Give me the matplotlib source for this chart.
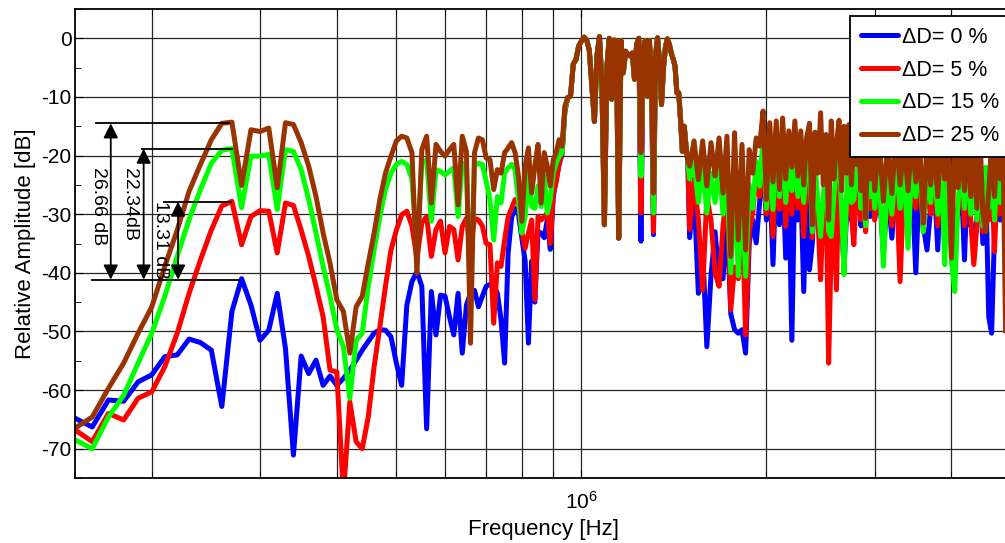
import numpy as np
import matplotlib
matplotlib.use("Agg")
import matplotlib.pyplot as plt
from matplotlib.ticker import MultipleLocator, NullFormatter, LogLocator

plt.rcParams['font.family'] = ['Liberation Sans', 'DejaVu Sans']
plt.rcParams['mathtext.fontset'] = 'custom'
plt.rcParams['mathtext.rm'] = 'Liberation Sans'
plt.rcParams['axes.unicode_minus'] = False

# frequency grids [kHz]
f_low = np.arange(150, 950, 10)
f_pass = np.arange(950, 1500, 10)
f_high = np.concatenate([np.arange(1500, 3000, 25), np.arange(3000, 4950, 50)])

labels = ["\u0394D= 0 %", "\u0394D= 5 %", "\u0394D= 15 %", "\u0394D= 25 %"]
colors = ["#0000ff", "#ff0000", "#00ff00", "#993300"]

# 150 kHz .. 940 kHz
low_0 = [-64.8, -66.3, -61.7, -61.9, -58.6, -57.4, -54.3, -54.0, -51.3, -51.9,
         -53.2, -62.8, -46.6, -41.0, -45.5, -51.5, -49.8, -43.5, -52.9, -71.1,
         -54.2, -57.2, -54.9, -59.2, -57.6, -59.2, -58.0, -56.6, -54.9, -53.2,
         -51.7, -50.3, -49.7, -49.8, -50.9, -55.4, -59.2, -45.5, -41.5, -39.8,
         -42.3, -66.6, -43.2, -50.6, -43.8, -44.0, -47.5, -50.6, -43.5, -53.7,
         -45.5, -43.5, -43.0, -45.8, -44.0, -42.3, -42.0, -42.1, -43.5, -48.0,
         -55.4, -36.6, -30.5, -29.0, -30.0, -34.0, -38.0, -52.0, -38.0, -45.0,
         -33.0, -33.2, -34.0, -31.0, -36.0, -27.0, -24.0, -21.5, -19.8, -12.5]
low_5 = [-66.8, -68.8, -64.0, -65.1, -61.4, -60.3, -56.0, -50.3, -43.5, -37.8,
         -32.7, -28.6, -27.8, -35.2, -30.4, -29.4, -29.5, -36.6, -28.1, -28.5,
         -32.7, -37.2, -42.3, -47.5, -56.6, -56.9, -78.0, -62.0, -68.8, -70.0,
         -64.6, -56.0, -49.2, -42.3, -36.1, -32.7, -30.1, -29.5, -32.0, -37.5,
         -31.5, -30.4, -37.2, -32.6, -31.2, -36.6, -32.1, -32.6, -37.8, -32.1,
         -30.7, -36.0, -30.7, -31.0, -32.0, -35.0, -35.2, -48.6, -38.3, -38.9,
         -34.4, -30.5, -29.0, -27.5, -28.0, -33.0, -35.8, -33.2, -31.0, -44.6,
         -30.4, -31.0, -30.4, -29.8, -35.0, -26.4, -24.5, -21.3, -19.5, -12.3]
low_15 = [-68.5, -70.0, -64.6, -60.9, -55.4, -50.3, -44.0, -37.2, -30.9, -25.8,
          -21.3, -19.1, -18.8, -28.9, -20.1, -20.1, -19.8, -29.2, -19.0, -19.3,
          -22.4, -27.5, -33.2, -38.9, -44.0, -49.7, -52.6, -61.4, -51.5, -50.3,
          -42.3, -36.1, -30.4, -25.8, -23.0, -21.5, -21.0, -21.5, -24.0, -36.0,
          -21.3, -20.7, -31.2, -22.4, -22.7, -23.3, -22.7, -22.1, -30.4, -21.3,
          -21.8, -45.0, -21.8, -21.3, -21.5, -24.4, -27.5, -34.4, -27.0, -28.1,
          -23.0, -22.1, -21.5, -22.4, -27.5, -33.2, -30.4, -22.4, -28.7, -29.0,
          -25.2, -28.7, -23.5, -29.8, -27.5, -23.0, -21.3, -20.1, -19.5, -12.1]
low_25 = [-66.5, -64.6, -59.7, -55.4, -50.3, -45.8, -38.9, -32.7, -26.1, -21.5,
          -17.3, -14.5, -14.3, -25.1, -15.6, -15.9, -15.3, -25.5, -14.4, -14.7,
          -17.8, -21.8, -27.0, -33.2, -38.4, -44.6, -46.6, -53.7, -45.8, -44.0,
          -38.4, -33.2, -27.5, -23.0, -20.1, -17.5, -16.7, -17.0, -19.5, -40.1,
          -19.0, -16.7, -28.1, -18.1, -19.3, -20.1, -19.0, -18.1, -28.4, -16.7,
          -19.3, -52.0, -19.5, -17.0, -17.3, -20.4, -20.7, -25.8, -22.4, -23.0,
          -19.5, -18.7, -17.8, -19.5, -23.5, -31.2, -21.8, -18.7, -26.4, -21.8,
          -18.1, -28.1, -19.5, -21.8, -25.2, -20.7, -19.5, -17.3, -18.4, -11.6]

# pass band 950 kHz .. 1490 kHz, almost the same for all cases
pass_all = [-10.1, -9.9, -4.4, -3.6, -1.3, -0.5, 0.2, -0.3, -2.0, -8.0,
            -14.2, -3.0, 0.3, -8.0, -31.8, -5.0, 0.0, -10.4, -0.3, -0.5,
            -34.1, -0.4, -5.9, -2.2, -2.8, -3.0, -2.5, -7.0, -1.0, 0.0,
            -19.5, -2.0, -0.4, -9.9, -0.4, -6.0, -26.4, -3.0, 0.1, -4.0,
            -11.3, -5.0, -1.5, -0.1, -1.0, -2.5, -3.5, -4.7, -9.3, -9.3,
            -14.0, -19.3, -15.0, -18.5, -21.0]
pass_dips = {1250: [-34.6, -29.8, -23.5, -19.5],
             1310: [-33.5, -33.0, -29.8, -26.4]}

# 1.5 MHz .. 4.9 MHz
high_0 = [-34.0, -26.0, -43.5, -36.0, -52.6, -40.5, -33.0, -41.0, -41.0, -30.0,
          -47.0, -49.7, -50.3, -49.7, -53.7, -35.0, -31.0, -34.9, -28.0, -21.0,
          -31.0, -23.0, -38.6, -22.0, -31.8, -22.0, -37.5, -24.0, -51.5, -23.0,
          -31.0, -25.0, -43.2, -26.0, -39.5, -35.0, -24.0, -30.0, -35.0, -30.0,
          -25.0, -36.0, -31.0, -32.4, -36.0, -22.0, -31.0, -39.5, -30.0, -22.0,
          -31.0, -29.0, -27.0, -24.0, -32.0, -25.0, -31.0, -24.0, -30.4, -24.0,
          -30.7, -25.0, -36.6, -26.0, -34.1, -24.0, -33.0, -25.0, -31.0, -24.0,
          -40.0, -23.0, -32.0, -36.1, -29.0, -24.0, -36.1, -23.0, -33.0, -25.0,
          -34.0, -31.0, -30.0, -24.0, -37.8, -23.0, -32.0, -33.0, -31.0, -23.0,
          -35.0, -25.0, -47.5, -50.3, -33.0, -25.0, -31.0, -24.0, -37.0]
high_5 = [-32.6, -24.0, -31.0, -43.0, -27.0, -31.0, -40.0, -42.3, -32.0, -26.0,
          -46.3, -39.0, -41.0, -28.0, -50.6, -33.0, -29.8, -23.0, -27.0, -19.0,
          -30.0, -21.0, -33.8, -20.0, -29.2, -20.0, -32.1, -22.0, -30.0, -21.0,
          -29.0, -23.0, -33.8, -24.0, -21.0, -34.0, -23.0, -30.0, -41.2, -29.0,
          -24.0, -55.4, -35.0, -29.0, -42.9, -21.0, -31.0, -36.0, -29.0, -21.0,
          -30.0, -35.2, -26.0, -23.0, -31.0, -24.0, -33.0, -23.0, -29.0, -23.0,
          -31.0, -24.0, -36.0, -25.0, -32.0, -23.0, -41.5, -24.0, -33.0, -23.0,
          -29.0, -22.0, -33.0, -24.0, -30.0, -23.0, -32.0, -22.0, -35.0, -24.0,
          -36.0, -30.0, -29.0, -23.0, -32.0, -22.0, -31.0, -38.6, -32.0, -22.0,
          -33.0, -24.0, -31.0, -23.0, -36.4, -24.0, -30.0, -23.0, -36.0]
high_15 = [-24.0, -21.0, -28.0, -22.0, -29.8, -23.0, -28.0, -22.0, -30.0, -24.0,
           -40.0, -25.0, -40.5, -26.0, -40.6, -25.0, -29.0, -21.0, -25.2, -17.0,
           -29.0, -19.0, -29.2, -18.0, -27.0, -18.0, -28.0, -20.0, -26.0, -19.0,
           -27.0, -21.0, -28.0, -22.0, -19.0, -33.0, -21.0, -28.0, -33.8, -27.0,
           -21.0, -33.0, -33.8, -27.0, -22.0, -19.0, -29.0, -40.3, -27.0, -19.0,
           -28.0, -27.5, -24.0, -21.0, -29.0, -22.0, -32.0, -22.0, -27.0, -21.0,
           -29.0, -22.0, -38.9, -23.0, -30.0, -21.0, -29.0, -22.0, -35.8, -21.0,
           -27.0, -20.0, -33.0, -22.0, -28.0, -21.0, -30.0, -20.0, -38.6, -22.0,
           -38.0, -43.2, -28.0, -21.0, -29.0, -20.0, -30.0, -23.0, -31.0, -20.0,
           -32.0, -22.0, -29.0, -21.0, -31.0, -22.0, -28.0, -21.0, -35.0]
high_25 = [-21.8, -17.5, -24.1, -17.5, -25.2, -17.8, -23.5, -17.0, -26.4, -16.7,
           -37.2, -16.1, -34.4, -18.1, -36.1, -19.0, -23.0, -17.0, -18.4, -12.4,
           -27.5, -14.4, -24.5, -14.1, -25.8, -13.6, -24.0, -15.8, -22.0, -14.1,
           -23.5, -15.8, -25.0, -17.0, -14.5, -31.8, -16.0, -23.0, -12.7, -25.0,
           -16.4, -31.0, -14.1, -24.0, -18.0, -14.0, -26.0, -15.0, -23.0, -14.7,
           -25.0, -18.0, -21.5, -16.0, -26.0, -17.0, -30.7, -18.0, -24.0, -16.0,
           -26.0, -17.0, -27.8, -18.0, -26.5, -16.0, -25.0, -17.5, -26.0, -16.5,
           -24.5, -18.0, -31.5, -17.0, -25.0, -18.5, -27.0, -16.5, -24.0, -18.0,
           -37.5, -17.0, -25.5, -18.0, -26.0, -16.5, -27.0, -18.5, -29.0, -16.0,
           -30.0, -33.0, -26.0, -18.0, -27.0, -17.5, -24.0, -17.0, -50.0]

lows = [low_0, low_5, low_15, low_25]
highs = [high_0, high_5, high_15, high_25]

# measured levels for the arrows
ref_level = -41.16
peak_levels = [-14.5, -18.82, -27.85]
diff_texts = ["26.66 dB", "22.34dB", "13.31 dB"]

freq = np.concatenate([f_low, f_pass, f_high]) * 1e3

fig = plt.figure(figsize=(10.05, 5.43), dpi=100)
ax = fig.add_axes([75 / 1005, 1 - 478 / 543, (1011 - 75) / 1005, (478 - 9) / 543])

for i in range(4):
    pb = list(pass_all)
    for fk, vals in pass_dips.items():
        pb[int((fk - 950) / 10)] = vals[i]
    amp = np.concatenate([lows[i], pb, highs[i]])
    ax.plot(freq, amp, color=colors[i], lw=3.6, label=labels[i],
            solid_joinstyle='round', solid_capstyle='round')

ax.set_xscale('log')
ax.set_xlim(1.5e5, 5e6)
ax.set_ylim(-75, 5)
ax.yaxis.set_major_locator(MultipleLocator(10))
ax.yaxis.set_minor_locator(MultipleLocator(5))
ax.xaxis.set_minor_locator(LogLocator(base=10, subs=np.arange(2, 10)))
ax.xaxis.set_minor_formatter(NullFormatter())

ax.grid(True, which='major', axis='both', color='0.15', lw=0.9)
ax.grid(True, which='minor', axis='x', color='0.15', lw=0.9)
ax.tick_params(which='both', direction='in', top=True, right=False, labelsize=15)
ax.tick_params(axis='y', pad=2.5)
ax.tick_params(axis='x', pad=9)
ax.tick_params(which='major', length=6)
ax.tick_params(which='minor', length=4)
for s in ax.spines.values():
    s.set_linewidth(1.3)

ax.set_xlabel('Frequency [Hz]', fontsize=16, labelpad=5)
ax.set_ylabel('Relative Amplitude [dB]', fontsize=16, labelpad=4)

# level marks and arrows
ax.plot([1.60e5, 2.77e5], [ref_level, ref_level], color='k', lw=1.3)
line_x = [(1.62e5, 2.67e5), (1.93e5, 2.70e5), (2.09e5, 2.69e5)]
arrow_x = [1.715e5, 1.94e5, 2.207e5]
text_pos = [(1.64e5, -28.7), (1.84e5, -28.4), (2.07e5, -34.4)]
for k in range(3):
    ax.plot(line_x[k], [peak_levels[k], peak_levels[k]], color='k', lw=1.3)
    ax.annotate('', xy=(arrow_x[k], peak_levels[k]), xytext=(arrow_x[k], ref_level),
                arrowprops=dict(arrowstyle='<|-|>', color='k', lw=1.3,
                                mutation_scale=22, shrinkA=0, shrinkB=0))
    ax.text(text_pos[k][0], text_pos[k][1], diff_texts[k], rotation=-90,
            ha='center', va='center', fontsize=14)

leg = ax.legend(loc='upper left', bbox_to_anchor=(850 / 1005, 1 - 16 / 543),
                bbox_transform=fig.transFigure, fontsize=15.5, fancybox=False,
                edgecolor='k', framealpha=1, borderaxespad=0, handlelength=1.75,
                handletextpad=0.15, labelspacing=0.55, borderpad=0.5)
leg.get_frame().set_linewidth(1.3)

fig.savefig('out.png', dpi=100)
